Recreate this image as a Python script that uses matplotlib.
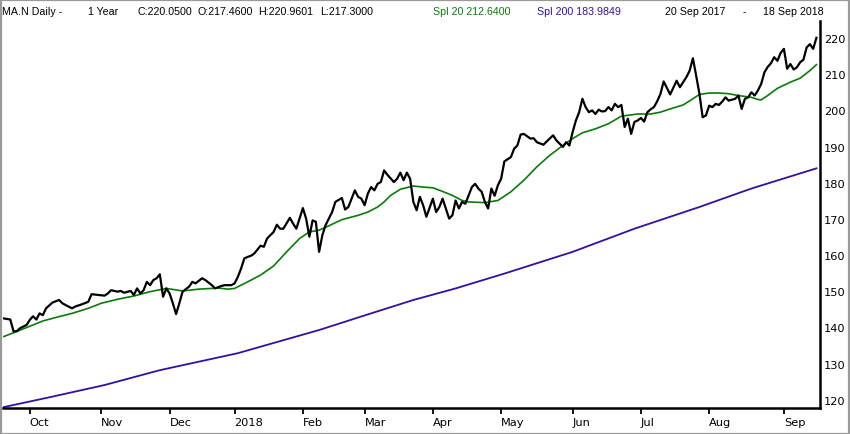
import numpy as np
import pandas as pd
import matplotlib
matplotlib.use("Agg")
import matplotlib.pyplot as plt
from matplotlib.patches import Rectangle

# ---------------- data ----------------
start_date = "2017-09-20"
end_date = "2018-09-18"
holidays = ["2017-11-23", "2017-12-25", "2018-01-01", "2018-01-15", "2018-02-19",
            "2018-03-30", "2018-05-28", "2018-07-04", "2018-09-03"]

# session number (trading day since 20 Sep 2017) and daily close
close_session = [0, 2, 3, 4, 5, 7, 8, 9, 10, 11, 12, 13, 15, 17, 18, 19, 21, 22, 24, 26,
                 27, 29, 31, 32, 33, 35, 36, 37, 39, 40, 41, 42, 43, 44, 45, 46, 47, 48, 49, 50,
                 51, 52, 53, 54, 55, 57, 58, 59, 61, 62, 64, 65, 67, 68, 70, 71, 72, 73, 74, 75,
                 76, 77, 78, 79, 80, 81, 83, 84, 85, 86, 88, 89, 90, 92, 93, 94, 95, 96, 97, 98,
                 99, 101, 102, 104, 105, 106, 108, 109, 110, 111, 112, 113, 114, 115, 116, 117, 118, 120, 121, 122,
                 123, 124, 125, 126, 127, 128, 129, 130, 132, 133, 134, 135, 137, 138, 139, 140, 141, 142, 144, 145,
                 146, 147, 148, 149, 150, 151, 152, 153, 154, 156, 157, 158, 159, 160, 162, 163, 164, 166, 167, 169,
                 170, 171, 172, 173, 174, 175, 176, 177, 178, 179, 180, 181, 182, 183, 184, 185, 186, 187, 188, 189,
                 190, 191, 192, 193, 194, 195, 196, 197, 198, 199, 200, 201, 202, 203, 204, 205, 207, 208, 209, 210,
                 211, 212, 213, 214, 215, 216, 217, 218, 219, 220, 221, 222, 223, 225, 226, 227, 228, 229, 230, 231,
                 232, 233, 234, 235, 236, 237, 238, 239, 240, 241, 242, 243, 244, 245, 246, 247, 248, 249, 250]
close_value = [142.5, 142.2, 138.9, 139.0, 139.8, 140.7, 142.1, 143.1, 142.2, 143.9, 143.4, 145.3, 146.9, 147.6, 146.7, 146.2, 145.3, 145.8, 146.4, 147.1,
               149.2, 149.0, 148.8, 149.4, 150.3, 149.9, 150.1, 149.6, 150.1, 149.0, 150.8, 149.4, 150.3, 152.6, 151.7, 153.1, 153.6, 154.7, 148.5, 150.8,
               149.4, 146.7, 143.7, 146.7, 149.9, 151.3, 152.6, 152.2, 153.6, 153.1, 151.7, 150.8, 151.5, 151.7, 151.7, 152.2, 154.0, 156.3, 159.1, 159.5,
               159.8, 160.4, 161.5, 162.6, 162.3, 164.6, 166.4, 168.4, 167.3, 167.3, 170.3, 168.7, 167.3, 173.0, 170.1, 165.1, 169.6, 169.2, 160.9, 165.5,
               168.3, 171.9, 174.7, 175.8, 172.6, 173.3, 177.9, 176.1, 175.6, 173.8, 177.0, 178.8, 177.9, 179.7, 180.2, 183.4, 182.2, 180.2, 181.1, 182.8,
               180.7, 182.8, 181.1, 174.7, 172.4, 176.1, 173.8, 170.6, 175.6, 171.9, 173.3, 175.6, 170.1, 171.0, 175.1, 172.9, 174.7, 174.2, 178.8, 179.7,
               178.4, 177.5, 174.7, 172.9, 178.4, 176.4, 179.3, 181.1, 185.9, 187.1, 189.4, 190.3, 193.3, 193.5, 192.2, 192.3, 191.2, 190.5, 191.4, 193.1,
               191.7, 190.8, 189.9, 191.2, 190.3, 194.0, 197.2, 199.5, 203.2, 200.9, 199.5, 200.0, 199.0, 200.2, 199.7, 199.8, 200.9, 200.0, 201.8, 200.9,
               201.5, 195.4, 197.7, 193.5, 196.8, 197.2, 197.9, 196.9, 199.5, 200.3, 200.9, 202.5, 204.5, 208.0, 206.2, 204.4, 208.2, 206.4, 207.8, 209.2,
               211.0, 214.4, 209.6, 204.6, 198.1, 198.6, 201.3, 200.9, 201.8, 201.5, 202.4, 203.6, 202.7, 203.2, 204.1, 200.4, 203.2, 203.6, 205.0, 204.1,
               205.5, 207.3, 210.5, 212.0, 213.0, 214.7, 213.7, 215.9, 217.0, 211.5, 212.8, 211.3, 211.9, 213.3, 214.0, 217.4, 218.3, 217.0, 220.05]

# Spl 20 (green)
ma20_session = [0, 4, 9, 12, 17, 21, 26, 30, 35, 40, 45, 50, 55, 60, 66, 69, 71, 75, 79, 83,
                87, 91, 94, 97, 100, 104, 109, 112, 115, 117, 119, 122, 126, 129, 132, 135, 138, 141, 143, 148,
                152, 156, 160, 164, 168, 172, 175, 178, 182, 186, 190, 195, 199, 202, 205, 209, 212, 214, 217, 220,
                223, 226, 230, 232, 233, 235, 238, 242, 245, 248, 250]
ma20_value = [137.5, 138.9, 140.7, 141.8, 143.0, 143.9, 145.3, 146.7, 147.8, 148.7, 149.9, 150.8, 150.1, 150.6, 150.9, 150.6, 150.8, 152.6, 154.5, 157.0,
              160.9, 164.6, 166.4, 166.9, 168.1, 169.8, 171.0, 171.9, 173.3, 174.7, 176.5, 178.2, 179.1, 178.8, 178.6, 177.6, 176.5, 175.1, 174.7, 174.5,
              175.1, 177.5, 180.7, 184.4, 187.6, 190.3, 192.2, 193.8, 194.9, 196.3, 198.4, 199.0, 199.0, 199.5, 200.4, 201.5, 203.2, 204.4, 204.8, 204.8,
              204.6, 204.1, 203.6, 203.0, 202.9, 204.1, 206.1, 207.8, 208.9, 211.0, 212.64]

# Spl 200 (purple)
ma200_session = [0, 15, 31, 48, 72, 97, 113, 126, 139, 154, 175, 194, 214, 230, 250]
ma200_value = [118.0, 120.9, 124.1, 128.2, 132.9, 139.3, 143.9, 147.6, 150.8, 154.9, 160.9, 167.3, 173.3, 178.4, 183.98]

y_ticks = [120, 130, 140, 150, 160, 170, 180, 190, 200, 210, 220]

header_parts = ["MA.N Daily -", "1 Year", "C:220.0500", "O:217.4600", "H:220.9601", "L:217.3000",
                "Spl 20 212.6400", "Spl 200 183.9849", "20 Sep 2017", "-", "18 Sep 2018"]

# ---------------- trading calendar ----------------
dates = pd.bdate_range(start_date, end_date)
dates = dates[~dates.isin(pd.to_datetime(holidays))]
months = dates.to_period("M")
first_idx = [i for i in range(1, len(dates)) if months[i] != months[i - 1]]
month_labels = [str(dates[i].year) if dates[i].month == 1 else dates[i].strftime("%b") for i in first_idx]

# ---------------- figure ----------------
W, H = 850, 435
fig = plt.figure(figsize=(W / 100, H / 100), dpi=100)
fig.patch.set_facecolor("white")

ax_l, ax_r, ax_t, ax_b = 3, 820, 22, 409
ax = fig.add_axes([ax_l / W, 1 - ax_b / H, (ax_r - ax_l) / W, (ax_b - ax_t) / H])

BLACK = "#000000"
GREEN = "#0b7a0b"
PURPLE = "#3310a0"

ax.plot(ma200_session, ma200_value, color=PURPLE, lw=1.3, solid_joinstyle="round")
ax.plot(ma20_session, ma20_value, color=GREEN, lw=1.2, solid_joinstyle="round")
ax.plot(close_session, close_value, color=BLACK, lw=1.6, solid_joinstyle="round")

ax.set_xlim(-0.25, 251.1)
ax.set_ylim(117.75, 224.7)

for s in ["left", "top"]:
    ax.spines[s].set_visible(False)
for s in ["right", "bottom"]:
    ax.spines[s].set_linewidth(1.8)
    ax.spines[s].set_color("black")

ax.yaxis.tick_right()
ax.set_yticks(y_ticks)
ax.set_yticklabels([str(v) for v in y_ticks])
ax.tick_params(axis="y", length=0, pad=3, labelsize=8.2, labelcolor="black")

ax.set_xticks(first_idx)
ax.set_xticklabels(month_labels)
ax.tick_params(axis="x", direction="out", length=4.5, width=1.3, pad=2, labelsize=8.2)
for lbl in ax.get_xticklabels():
    lbl.set_horizontalalignment("left")

# header texts
header_x = [2, 88, 137, 197, 258, 320, 433, 537, 665, 743, 763]
header_c = [BLACK, BLACK, BLACK, BLACK, BLACK, BLACK, GREEN, PURPLE, BLACK, BLACK, BLACK]
ty = 1 - 12 / H
for txt, xp, col in zip(header_parts, header_x, header_c):
    fig.text(xp / W, ty, txt, color=col, fontsize=7.7, va="center", ha="left",
             family=["Liberation Sans", "DejaVu Sans"])

# outer gray frame
fig.patches.append(Rectangle((0.5 / W, 0.5 / H), (W - 1.5) / W, (H - 1.5) / H, transform=fig.transFigure,
                             fill=False, edgecolor="#9a9a9a", lw=1.6))

fig.savefig("out.png", dpi=100, facecolor="white")
